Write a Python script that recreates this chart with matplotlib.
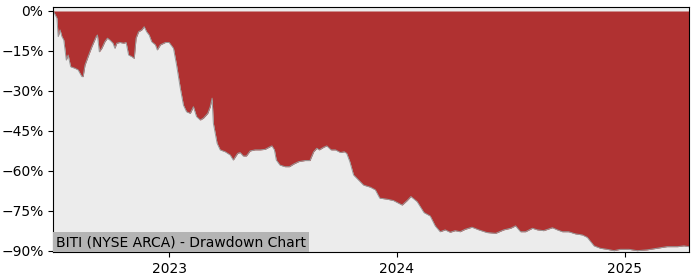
import matplotlib
matplotlib.use("Agg")
import matplotlib.pyplot as plt
import matplotlib.dates as mdates
from matplotlib.ticker import PercentFormatter
import numpy as np

# drawdown of BITI (date, percent below running peak)
dates = [
    "2022-06-29", "2022-07-05", "2022-07-07", "2022-07-10", "2022-07-13", "2022-07-16",
    "2022-07-20", "2022-07-23", "2022-07-27", "2022-08-03", "2022-08-08", "2022-08-14",
    "2022-08-16", "2022-08-19", "2022-08-24", "2022-08-30", "2022-09-06", "2022-09-08",
    "2022-09-11", "2022-09-15", "2022-09-20", "2022-09-24", "2022-09-28", "2022-10-03",
    "2022-10-06", "2022-10-09", "2022-10-14", "2022-10-20", "2022-10-24", "2022-10-28",
    "2022-11-02", "2022-11-06", "2022-11-09", "2022-11-13", "2022-11-18", "2022-11-22",
    "2022-11-26", "2022-11-30", "2022-12-04", "2022-12-10", "2022-12-13", "2022-12-18",
    "2022-12-26", "2023-01-01", "2023-01-08", "2023-01-13", "2023-01-19", "2023-01-24",
    "2023-01-29", "2023-02-04", "2023-02-09", "2023-02-14", "2023-02-20", "2023-02-25",
    "2023-03-04", "2023-03-08", "2023-03-11", "2023-03-13", "2023-03-19", "2023-03-24",
    "2023-04-01", "2023-04-09", "2023-04-14", "2023-04-21", "2023-04-25", "2023-04-30",
    "2023-05-05", "2023-05-11", "2023-05-19", "2023-05-27", "2023-06-04", "2023-06-12",
    "2023-06-15", "2023-06-19", "2023-06-22", "2023-06-28", "2023-07-06", "2023-07-13",
    "2023-07-20", "2023-07-28", "2023-08-07", "2023-08-15", "2023-08-21", "2023-08-26",
    "2023-08-30", "2023-09-06", "2023-09-11", "2023-09-18", "2023-09-25", "2023-10-03",
    "2023-10-09", "2023-10-13", "2023-10-18", "2023-10-24", "2023-11-01", "2023-11-09",
    "2023-11-20", "2023-11-28", "2023-12-05", "2023-12-17", "2023-12-27", "2024-01-10",
    "2024-01-18", "2024-01-24", "2024-02-03", "2024-02-14", "2024-02-24", "2024-03-03",
    "2024-03-11", "2024-03-19", "2024-03-27", "2024-04-04", "2024-04-12", "2024-04-20",
    "2024-05-01", "2024-05-12", "2024-05-25", "2024-06-08", "2024-06-21", "2024-07-02",
    "2024-07-10", "2024-07-18", "2024-07-26", "2024-08-06", "2024-08-14", "2024-08-24",
    "2024-09-07", "2024-09-15", "2024-09-23", "2024-10-03", "2024-10-14", "2024-10-25",
    "2024-11-02", "2024-11-13", "2024-11-23", "2024-12-04", "2024-12-15", "2024-12-25",
    "2025-01-08", "2025-01-21", "2025-02-06", "2025-02-22", "2025-03-10", "2025-03-27",
    "2025-04-06", "2025-04-14",
]
drawdown = [
    0.0, -2.7, -9.6, -7.1, -9.6, -10.9,
    -18.4, -16.5, -20.9, -21.5, -22.1, -24.6,
    -24.6, -20.3, -17.1, -13.4, -9.6, -9.0,
    -15.3, -14.0, -11.5, -10.2, -10.9, -12.1,
    -14.0, -12.1, -11.8, -12.1, -11.8, -16.5,
    -17.1, -17.8, -10.2, -7.8, -7.1, -5.9,
    -7.8, -9.0, -11.5, -12.7, -14.6, -12.7,
    -11.8, -11.8, -14.0, -20.3, -29.0, -35.3,
    -37.8, -38.4, -35.9, -39.6, -40.9, -40.2,
    -38.4, -35.9, -32.7, -42.1, -49.6, -52.1,
    -52.8, -54.0, -55.9, -53.4, -53.1, -54.4,
    -54.4, -52.5, -52.1, -52.1, -51.9, -50.9,
    -50.6, -52.1, -55.9, -57.8, -58.4, -58.4,
    -57.4, -56.5, -56.1, -56.1, -52.8, -51.5,
    -52.1, -51.1, -50.6, -52.1, -52.1, -53.1,
    -52.8, -53.4, -56.5, -61.5, -63.4, -65.3,
    -66.1, -67.1, -70.2, -70.6, -71.1, -72.8,
    -71.1, -69.6, -71.5, -75.6, -76.9, -80.6,
    -82.8, -82.1, -83.0, -82.4, -82.8, -81.9,
    -81.1, -82.1, -83.1, -83.4, -82.1, -81.5,
    -80.6, -82.8, -82.8, -81.5, -82.1, -82.4,
    -81.3, -82.1, -82.8, -82.8, -83.6, -84.0,
    -84.9, -88.1, -89.0, -89.4, -89.9, -89.4,
    -89.4, -89.9, -89.6, -89.0, -88.4, -88.4,
    -88.1, -88.4,
]

x = np.array(dates, dtype="datetime64[D]")
y = np.array(drawdown)

fig = plt.figure(figsize=(7, 2.8), dpi=100)
ax = fig.add_axes([0.076, 0.1, 0.908, 0.875])
ax.set_facecolor("#ececec")

ax.fill_between(x, y, 0, color="#b03131", lw=0)
ax.plot(x, y, color="#999999", lw=0.7)

ax.set_xlim(x[0], x[-1])
ax.set_ylim(-90.4, 1.5)
ax.set_yticks([0, -15, -30, -45, -60, -75, -90])
ax.yaxis.set_major_formatter(PercentFormatter(decimals=0))
ax.xaxis.set_major_locator(mdates.YearLocator())
ax.xaxis.set_major_formatter(mdates.DateFormatter("%Y"))
ax.tick_params(labelsize=10)

ax.text(0.004, 0.012, "BITI (NYSE ARCA) - Drawdown Chart", transform=ax.transAxes,
        fontsize=10, va="bottom", ha="left",
        bbox=dict(facecolor="#b4b4b4", edgecolor="none", pad=2))

fig.savefig("out.png", dpi=100)
